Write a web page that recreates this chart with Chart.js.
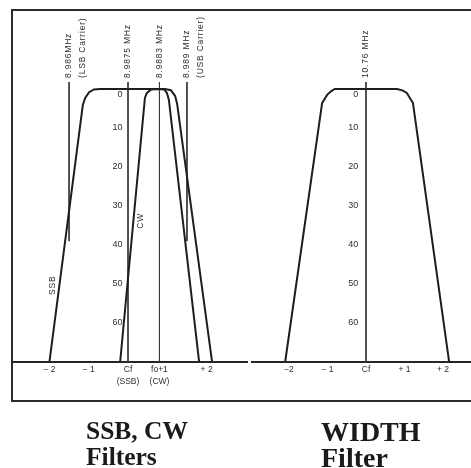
<!DOCTYPE html>
<html>
<head>
<meta charset="utf-8">
<script src="https://cdn.jsdelivr.net/npm/chart.js@4.4.0/dist/chart.umd.min.js"></script>
<style>
html,body{margin:0;padding:0;background:#fff;width:471px;height:468px;overflow:hidden;}
#frame{position:absolute;left:11px;top:9px;width:480px;height:389px;border:2px solid #2b2b2b;border-right:none;}
#cL{position:absolute;left:0;top:0;}
#cR{position:absolute;left:251px;top:0;}
.ttl{position:absolute;font-family:"Liberation Serif","Times New Roman",serif;font-weight:bold;line-height:26px;color:#1a1a1a;white-space:nowrap;}
</style>
</head>
<body>
<div id="frame"></div>
<canvas id="cL" width="248" height="468"></canvas>
<canvas id="cR" width="220" height="468"></canvas>
<div class="ttl" style="left:86px;top:418px;font-size:25.5px;">SSB, CW<br>Filters</div>
<div class="ttl" style="left:321px;top:419px;font-size:28px;">WIDTH<br>Filter</div>
<script>
// ---- Data (frequency offset from Cf in kHz, attenuation in dB) ----
// Left panel: SSB and CW filters
const ssbFreq  = [-2.00, -1.15, -1.09, -0.99, -0.87, -0.71, 0.94, 1.09, 1.20, 1.25, 2.14];
const ssbAtten = [70, 4.1, 2.3, 0.8, 0.1, 0, 0, 0.3, 1.8, 3.8, 70];
const cwFreq   = [-0.20, 0.43, 0.48, 0.59, 0.76, 0.92, 0.99, 1.04, 1.81];
const cwAtten  = [70, 2.3, 1.0, 0.1, 0, 0.1, 1.0, 2.8, 70];
// Right panel: WIDTH filter
const widthFreq  = [-2.10, -1.14, -1.01, -0.91, -0.81, 0.81, 0.96, 1.06, 1.22, 2.16];
const widthAtten = [70, 3.6, 1.5, 0.6, 0, 0, 0.4, 1.0, 3.6, 70];

// Frequency marker lines
const markerFreqL  = [-1.5, 0, 0.8, 1.5];
const markerLowDbL = [39, 70, 70, 39];
const markerTextL  = [['8.986MHz', '(LSB Carrier)'], ['8.9875 MHz'], ['8.9883 MHz'], ['8.989 MHz', '(USB Carrier)']];
const markerFreqR  = [0];
const markerLowDbR = [70];
const markerTextR  = [['10.76 MHz']];
const markerTopDb  = -1.8;

// Tick labels
const dbTicks      = [0, 10, 20, 30, 40, 50, 60];
const xTickValsL   = [-2, -1, 0, 0.8, 2];
const xTickLabelsL = ['\u2212 2', '\u2212 1', ['Cf', '(SSB)'], ['fo+1', '(CW)'], '+ 2'];
const xTickValsR   = [-2, -1, 0, 1, 2];
const xTickLabelsR = ['\u22122', '\u2212 1', 'Cf', '+ 1', '+ 2'];

// Curve labels
const curveLabelTextL = ['SSB', 'CW'];
const curveLabelFreqL = [-1.93, 0.31];
const curveLabelDbL   = [50.3, 33.8];

// ---- helpers ----
const INK = '#1e1e1e';
const TXT = '#2e2e2e';
const tickFont = {family: '"Liberation Sans", Arial, sans-serif', size: 8.5, lineHeight: 1.4};

function pts(xs, ys) { return xs.map((v, i) => ({x: v, y: ys[i]})); }

function curveDs(xs, ys) {
  return {data: pts(xs, ys), showLine: true, borderColor: INK, borderWidth: 2,
          pointRadius: 0, tension: 0, fill: false};
}
function markerDs(f, lowDb) {
  return {data: [{x: f, y: markerTopDb}, {x: f, y: lowDb}], showLine: true,
          borderColor: '#3a3a3a', borderWidth: 1, pointRadius: 0, fill: false};
}

function makeTextPlugin(mFreq, mText, cText, cFreq, cDb) {
  return {
    id: 'rotText',
    afterDatasetsDraw(chart) {
      const {ctx} = chart;
      const xs = chart.scales.x, ys = chart.scales.y;
      ctx.save();
      ctx.fillStyle = TXT;
      ctx.font = '8.5px "Liberation Sans", Arial, sans-serif';
      if ('letterSpacing' in ctx) ctx.letterSpacing = '0.8px';
      mFreq.forEach((f, i) => {
        const px = xs.getPixelForValue(f);
        const py = ys.getPixelForValue(markerTopDb) - 4;
        ctx.save();
        ctx.translate(px, py);
        ctx.rotate(-Math.PI / 2);
        ctx.textAlign = 'left';
        ctx.textBaseline = 'middle';
        mText[i].forEach((t, k) => ctx.fillText(t, 0, k * 13.5));
        ctx.restore();
      });
      cText.forEach((t, i) => {
        const px = xs.getPixelForValue(cFreq[i]);
        const py = ys.getPixelForValue(cDb[i]);
        ctx.save();
        ctx.translate(px, py);
        ctx.rotate(-Math.PI / 2);
        ctx.textAlign = 'center';
        ctx.textBaseline = 'middle';
        ctx.fillText(t, 0, 0);
        ctx.restore();
      });
      ctx.restore();
    }
  };
}

// dbAxisAt: where (in kHz) the dB tick labels sit, just left of the Cf line
function scalesCfg(xmin, xmax, tickVals, tickLabels, dbAxisAt) {
  return {
    x: {
      type: 'linear', min: xmin, max: xmax, position: {y: 70},
      grid: {display: false, drawTicks: false},
      border: {display: true, color: '#262626', width: 2},
      afterBuildTicks: s => { s.ticks = tickVals.map(v => ({value: v})); },
      ticks: {autoSkip: false, maxRotation: 0, padding: 2, color: TXT, font: tickFont,
              callback: (v, i) => tickLabels[i]}
    },
    y: {
      type: 'linear', min: -20.26, max: 79.74, reverse: true, position: {x: dbAxisAt},
      grid: {display: false, drawTicks: false},
      border: {display: false},
      afterBuildTicks: s => { s.ticks = dbTicks.map(v => ({value: v})); },
      ticks: {autoSkip: false, padding: 0, color: TXT,
              font: {family: '"Liberation Sans", Arial, sans-serif', size: 9, lineHeight: 1.2},
              callback: v => (v === 0 ? ['', '0'] : String(v))}
    }
  };
}

const common = {
  responsive: false, animation: false,
  plugins: {legend: {display: false}, tooltip: {enabled: false}}
};

new Chart(document.getElementById('cL'), {
  type: 'scatter',
  data: {datasets: [
    curveDs(ssbFreq, ssbAtten),
    curveDs(cwFreq, cwAtten),
    ...markerFreqL.map((f, i) => markerDs(f, markerLowDbL[i]))
  ]},
  options: Object.assign({}, common, {
    layout: {padding: {left: 12, right: 0, top: 10, bottom: 68}},
    scales: scalesCfg(-2.952, 3.053, xTickValsL, xTickLabelsL, -0.14)
  }),
  plugins: [makeTextPlugin(markerFreqL, markerTextL, curveLabelTextL, curveLabelFreqL, curveLabelDbL)]
});

new Chart(document.getElementById('cR'), {
  type: 'scatter',
  data: {datasets: [
    curveDs(widthFreq, widthAtten),
    ...markerFreqR.map((f, i) => markerDs(f, markerLowDbR[i]))
  ]},
  options: Object.assign({}, common, {
    layout: {padding: {left: 0, right: 0, top: 10, bottom: 68}},
    scales: scalesCfg(-2.987, 2.727, xTickValsR, xTickLabelsR, -0.2)
  }),
  plugins: [makeTextPlugin(markerFreqR, markerTextR, [], [], [])]
});
</script>
</body>
</html>
